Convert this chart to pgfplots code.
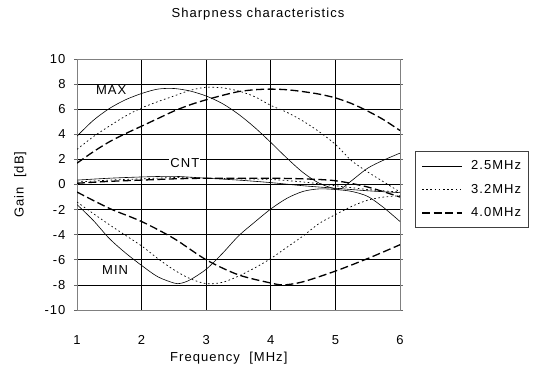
\documentclass[border=0pt]{standalone}
\usepackage{fontspec}
\setmainfont{Liberation Sans}[LetterSpace=8]
\usepackage{pgfplots}
\pgfplotsset{compat=1.18}

\pgfplotstableread{
x y
1 3.85
1.25 5.1
1.5 6.05
1.75 6.75
2 7.25
2.25 7.6
2.5 7.65
2.75 7.45
3 7.05
3.25 6.45
3.5 5.6
3.75 4.55
4 3.35
4.25 2.1
4.5 0.95
4.75 0.1
5 -0.35
5.1 -0.3
5.25 0.3
5.5 1.3
5.75 1.95
6 2.5
}\aMax
\pgfplotstableread{
x y
1 0.35
1.5 0.5
2 0.6
2.5 0.65
3 0.5
3.5 0.35
4 0.15
4.5 -0.1
5 -0.3
5.5 -0.5
6 -0.65
}\aCnt
\pgfplotstableread{
x y
1 -1.6
1.25 -2.85
1.5 -4.3
1.75 -5.45
2 -6.45
2.25 -7.35
2.5 -7.85
2.6 -7.88
2.75 -7.6
3 -6.75
3.25 -5.5
3.5 -4.1
3.75 -3.0
4 -1.95
4.25 -1.1
4.5 -0.55
4.75 -0.35
5 -0.4
5.25 -0.55
5.5 -0.95
5.75 -1.85
6 -2.95
}\aMin
\pgfplotstableread{
x y
1 2.8
1.25 3.8
1.5 4.65
1.75 5.45
2 6.1
2.25 6.6
2.5 7.05
2.75 7.5
3 7.75
3.25 7.7
3.5 7.45
3.75 7.0
4 6.3
4.25 5.75
4.5 5.05
4.75 4.2
5 3.2
5.25 1.9
5.5 1.0
5.75 0.2
6 -0.6
}\bMax
\pgfplotstableread{
x y
1 0.2
1.5 0.35
2 0.45
2.5 0.55
3 0.5
3.5 0.45
4 0.4
4.5 0.2
5 -0.1
5.5 -0.4
6 -0.6
}\bCnt
\pgfplotstableread{
x y
1 -1.4
1.5 -3.2
2 -4.9
2.25 -5.9
2.5 -6.8
2.75 -7.5
3 -7.9
3.25 -7.8
3.5 -7.3
3.75 -6.65
4 -5.9
4.25 -5.0
4.5 -4.1
4.75 -3.1
5 -2.4
5.25 -1.75
5.5 -1.25
5.75 -1.0
6 -0.9
}\bMin
\pgfplotstableread{
x y
1 1.7
1.25 2.6
1.5 3.4
1.75 4.05
2 4.65
2.25 5.25
2.5 5.85
2.75 6.35
3 6.75
3.25 7.1
3.5 7.4
3.75 7.55
4 7.6
4.25 7.55
4.5 7.4
4.75 7.2
5 6.9
5.25 6.45
5.5 5.85
5.75 5.15
6 4.3
}\cMax
\pgfplotstableread{
x y
1 0.1
1.5 0.25
2 0.35
2.5 0.45
3 0.5
3.5 0.5
4 0.5
4.5 0.45
5 0.3
5.5 -0.2
6 -1.0
}\cCnt
\pgfplotstableread{
x y
1 -0.6
1.5 -1.9
2 -2.95
2.5 -4.3
3 -6.0
3.5 -7.2
4 -7.85
4.2 -8.0
4.5 -7.75
5 -6.9
5.5 -5.9
6 -4.8
}\cMin

\begin{document}
\begin{tikzpicture}[font=\fontsize{13bp}{15bp}\selectfont]
\useasboundingbox (0,0) rectangle (542bp,373bp);
\begin{axis}[
  at={(77bp,63bp)}, anchor=south west,
  scale only axis, width=323bp, height=251bp,
  xmin=1, xmax=6, ymin=-10, ymax=10,
  xtick={1,2,3,4,5,6}, ytick={-10,-8,...,10},
  /pgf/number format/assume math mode=true,
  grid=major,
  major grid style={black, line width=0.7bp},
  axis line style={black!50, line width=0.9bp},
  xtick style={draw=none},
  ytick style={black!60, line width=0.6bp},
  tick align=outside, major tick length=3bp,
  xticklabel style={anchor=center, yshift=-27bp},
  yticklabel style={anchor=east, xshift=-5bp},
  xlabel={Frequency~~[MHz]},
  ylabel={Gain~~[dB]},
  xlabel style={at={(axis description cs:0.47,-0.19)}, anchor=center},
  ylabel style={at={(axis description cs:-0.176,0.5)}, anchor=center, rotate=0},
  legend style={at={(1.0464,0.635)}, anchor=north west, draw=black!75, line width=0.8bp,
    inner xsep=6bp, inner ysep=8bp, row sep=10bp, nodes={inner sep=1.5bp}},
  legend cell align=left,
  legend image code/.code={\draw[#1] (0bp,0bp) -- (40bp,0bp);},
]
\addplot[black, line width=0.6bp, smooth] table {\aMax};
\addlegendentry{\hspace{7bp}2.5MHz\hspace{7bp}}
\addplot[black, line width=0.7bp, dash pattern=on 1.6bp off 2.6bp, smooth] table {\bMax};
\addlegendentry{\hspace{7bp}3.2MHz\hspace{7bp}}
\addplot[black, line width=1.3bp, dash pattern=on 8bp off 3.5bp, smooth] table {\cMax};
\addlegendentry{\hspace{7bp}4.0MHz\hspace{7bp}}
\addplot[black, line width=0.6bp, smooth, forget plot] table {\aCnt};
\addplot[black, line width=0.6bp, smooth, forget plot] table {\aMin};
\addplot[black, line width=0.7bp, dash pattern=on 1.6bp off 2.6bp, smooth, forget plot] table {\bCnt};
\addplot[black, line width=0.7bp, dash pattern=on 1.6bp off 2.6bp, smooth, forget plot] table {\bMin};
\addplot[black, line width=1.3bp, dash pattern=on 8bp off 3.5bp, smooth, forget plot] table {\cCnt};
\addplot[black, line width=1.3bp, dash pattern=on 8bp off 3.5bp, smooth, forget plot] table {\cMin};
\node[fill=white, inner sep=1bp] at (axis cs:1.53,7.52) {MAX};
\node[fill=white, inner sep=1bp] at (axis cs:2.67,1.68) {CNT};
\node[fill=white, inner sep=1bp] at (axis cs:1.59,-6.8) {MIN};
\end{axis}
\node at (258bp,359bp) {Sharpness characteristics};
\end{tikzpicture}
\end{document}
